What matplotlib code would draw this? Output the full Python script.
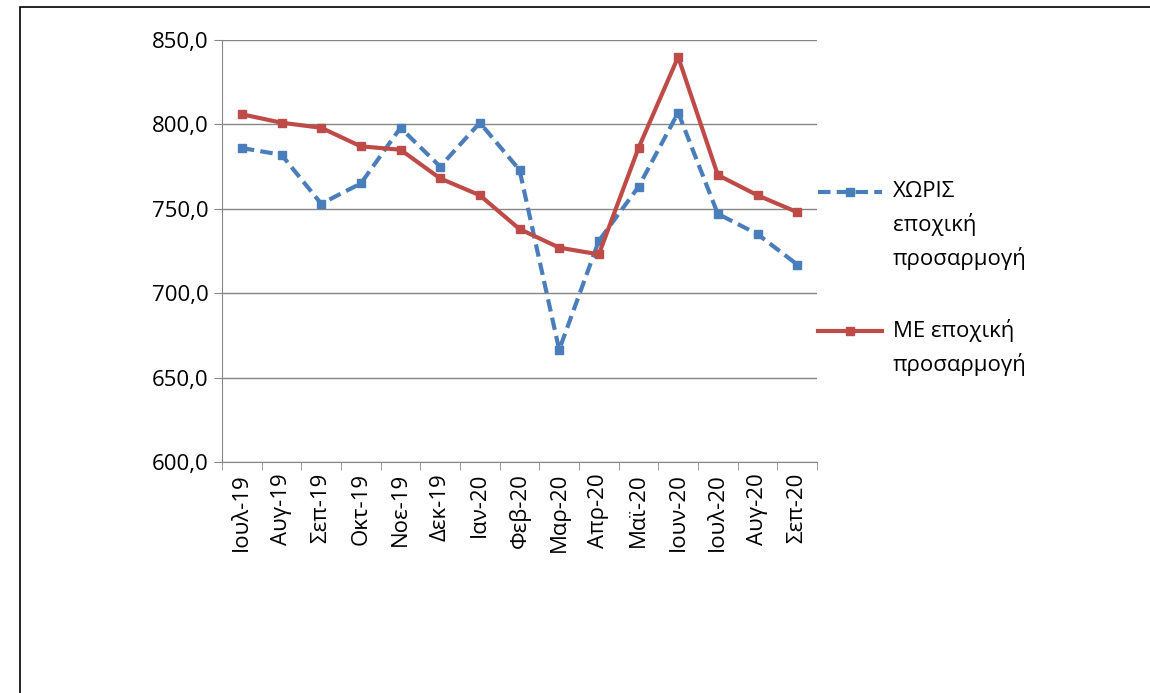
import matplotlib.pyplot as plt
from matplotlib.lines import Line2D
from matplotlib.patches import Rectangle

months = ['Ιουλ-19', 'Αυγ-19', 'Σεπ-19', 'Οκτ-19', 'Νοε-19', 'Δεκ-19', 'Ιαν-20', 'Φεβ-20',
          'Μαρ-20', 'Απρ-20', 'Μαϊ-20', 'Ιουν-20', 'Ιουλ-20', 'Αυγ-20', 'Σεπ-20']
xoris = [786, 782, 753, 765, 798, 775, 801, 773, 666.5, 731, 763, 807, 747, 735, 717]
me = [806, 801, 798, 787, 785, 768, 758, 738, 727, 723, 786, 840, 770, 758, 748]

plt.rcParams['font.family'] = ['Open Sans', 'DejaVu Sans']

blue = '#4a7ebb'
red = '#be4b48'
blue_ls = (0, (3, 1.5))

fig = plt.figure(figsize=(11.5, 6.93), dpi=100)
fig.patches.append(Rectangle((20/1150, -0.01), 1.2, 1.0, transform=fig.transFigure,
                             fill=False, edgecolor='black', linewidth=1.2))
ax = fig.add_axes([222/1150, 1-462/693, 595/1150, 422/693])

x = range(len(months))
ax.plot(x, xoris, color=blue, linestyle=blue_ls, linewidth=3, marker='s', markersize=6)
ax.plot(x, me, color=red, linewidth=3, marker='s', markersize=6)

ax.set_ylim(600, 850)
ax.set_xlim(-0.5, len(months) - 0.5)
ax.set_yticks(range(600, 851, 50))
ax.set_yticklabels([f'{v},0' for v in range(600, 851, 50)], fontsize=16)
ax.set_xticks(list(x))
ax.set_xticklabels(months, rotation=90, fontsize=16)
ax.set_xticks([i - 0.5 for i in range(len(months) + 1)], minor=True)
ax.tick_params(axis='x', which='major', length=0, pad=8)
ax.tick_params(axis='x', which='minor', length=6, color='#868686')
ax.tick_params(axis='y', length=6, color='#868686')
ax.grid(axis='y', color='#868686', linewidth=1)
ax.set_axisbelow(True)
for s in ['top', 'right']:
    ax.spines[s].set_visible(False)
for s in ['left', 'bottom']:
    ax.spines[s].set_color('#868686')

# legend drawn by hand so the key sits on the first text line
def key(y, color, ls, lines):
    yf = 1 - y/693
    fig.add_artist(Line2D([818/1150, 882/1150], [yf, yf], transform=fig.transFigure,
                          color=color, linestyle=ls, linewidth=3))
    fig.add_artist(Line2D([850/1150], [yf], transform=fig.transFigure,
                          color=color, marker='s', markersize=6))
    for i, t in enumerate(lines):
        fig.text(893/1150, 1 - (y + 33*i)/693, t, fontsize=16, va='center', ha='left')

key(192, blue, blue_ls, ['ΧΩΡΙΣ', 'εποχική', 'προσαρμογή'])
key(331, red, '-', ['ΜΕ εποχική', 'προσαρμογή'])

fig.savefig('out.png')
